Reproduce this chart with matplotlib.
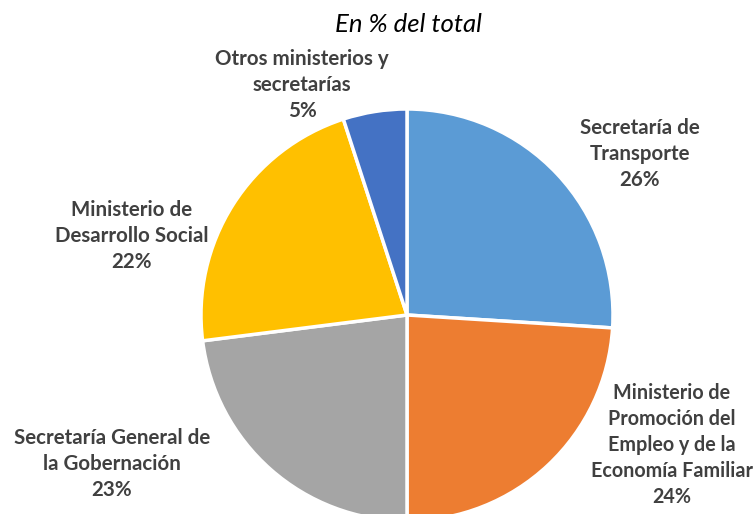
import matplotlib
matplotlib.use("Agg")
import matplotlib.pyplot as plt

categories = ["Secretaría de\nTransporte",
              "Ministerio de\nPromoción del\nEmpleo y de la\nEconomía Familiar",
              "Secretaría General de\nla Gobernación",
              "Ministerio de\nDesarrollo Social",
              "Otros ministerios y\nsecretarías"]
values = [26, 24, 23, 22, 5]
colors = ["#5B9BD5", "#ED7D31", "#A5A5A5", "#FFC000", "#4472C4"]
subtitle = "En % del total"

W, H = 756, 514
fig = plt.figure(figsize=(W / 100, H / 100), dpi=100)
ax = fig.add_axes([0, 0, 1, 1])

cx, cy, r = 407, H - 315, 206
ax.pie(values, colors=colors, startangle=90, counterclock=False,
       center=(cx, cy), radius=r, frame=False,
       wedgeprops=dict(edgecolor="white", linewidth=2.5))
ax.set_xlim(0, W)
ax.set_ylim(0, H)
ax.set_aspect("equal")
ax.axis("off")

# label positions in pixel coords (center x, center y) and font sizes
label_pos = [(640, 154), (672, 445), (112, 464), (132, 236), (302, 85)]
label_size = [14.8, 14.2, 14.8, 14.8, 14.8]
for cat, v, (lx, ly), fs in zip(categories, values, label_pos, label_size):
    ax.text(lx, H - ly, f"{cat}\n{v}%", ha="center", va="center",
            fontsize=fs, fontweight="bold", color="#404040",
            family=["Lato", "DejaVu Sans"], linespacing=1.38)

ax.text(408, H - 25, subtitle, ha="center", va="center", fontsize=18.5,
        style="italic", color="#000000", family=["Lato", "DejaVu Sans"])

fig.savefig("out.png", dpi=100)
